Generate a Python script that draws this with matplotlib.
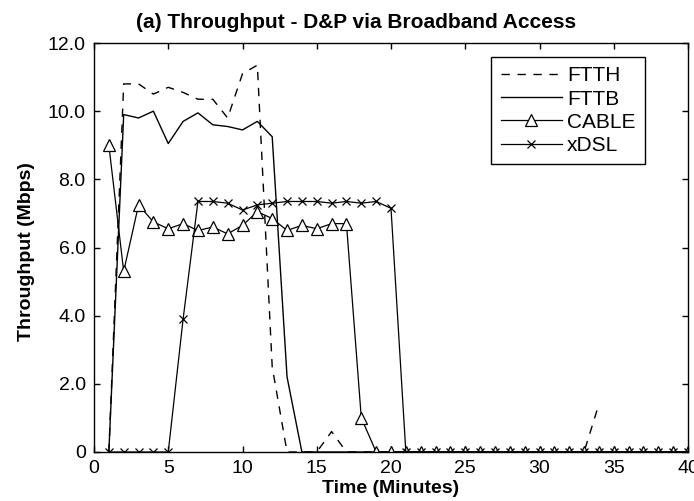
import matplotlib
matplotlib.use("Agg")
import matplotlib.pyplot as plt

plt.rcParams['font.family'] = ['Liberation Sans', 'DejaVu Sans']

# --- data ---
t_ftth = list(range(1, 35))
ftth = [0, 10.8, 10.8, 10.5, 10.7, 10.55, 10.35, 10.35, 9.8, 11.1,
        11.35, 2.5, 0, 0, 0, 0.6, 0, 0, 0, 0,
        0, 0, 0, 0, 0, 0, 0, 0, 0, 0,
        0, 0, 0, 1.4]

t_all = list(range(1, 41))
fttb = [0, 9.9, 9.8, 10.0, 9.05, 9.7, 9.95, 9.6, 9.55, 9.45,
        9.7, 9.25, 2.2] + [0] * 27
cable = [9.0, 5.3, 7.25, 6.75, 6.55, 6.7, 6.5, 6.6, 6.4, 6.65,
         7.05, 6.85, 6.5, 6.65, 6.55, 6.7, 6.7, 1.0] + [0] * 22
xdsl = [0, 0, 0, 0, 0, 3.9, 7.35, 7.35, 7.3, 7.1,
        7.25, 7.3, 7.35, 7.35, 7.35, 7.3, 7.35, 7.3, 7.35, 7.15] + [0] * 20

x_ticks = [0, 5, 10, 15, 20, 25, 30, 35, 40]
y_ticks = [0, 2, 4, 6, 8, 10, 12]
y_tick_labels = ['0', '2.0', '4.0', '6.0', '8.0', '10.0', '12.0']

# --- figure ---
fig = plt.figure(figsize=(6.94, 5.01), dpi=100)
ax = fig.add_axes([94 / 694, 49 / 501, 594 / 694, 409 / 501])

ax.plot(t_ftth, ftth, color='black', lw=1.0, dashes=(6, 5.5), label='FTTH')
ax.plot(t_all, fttb, color='black', lw=1.0, label='FTTB')
ax.plot(t_all, cable, color='black', lw=0.9, marker='^', markersize=8.5,
        markerfacecolor='white', markeredgewidth=0.9, label='CABLE')
ax.plot(t_all, xdsl, color='black', lw=0.9, marker='x', markersize=6,
        markeredgewidth=0.9, label='xDSL')

ax.set_xlim(0, 40)
ax.set_ylim(0, 12)
ax.set_xticks(x_ticks)
ax.set_xticklabels([str(v) for v in x_ticks])
ax.set_yticks(y_ticks)
ax.set_yticklabels(y_tick_labels)
ax.tick_params(direction='in', length=4, width=1, top=True, right=True,
               labelsize=14, pad=6)
for s in ax.spines.values():
    s.set_linewidth(1.0)

ax.set_title('(a) Throughput - D&P via Broadband Access', fontsize=15,
             fontweight='bold', x=0.441, pad=11)
ax.set_xlabel('Time (Minutes)', fontsize=14, fontweight='bold', labelpad=2)
ax.set_ylabel('Throughput (Mbps)', fontsize=14, fontweight='bold')
ax.yaxis.set_label_coords(-0.1, 0.49)

leg = ax.legend(loc='upper right', bbox_to_anchor=(0.9276, 0.9658),
                borderaxespad=0, fancybox=False, edgecolor='black',
                framealpha=1, fontsize=15, handlelength=2.95,
                handletextpad=0.24, labelspacing=0.2, borderpad=0.45)
leg.get_frame().set_linewidth(1.0)

fig.savefig('out.png', dpi=100)
